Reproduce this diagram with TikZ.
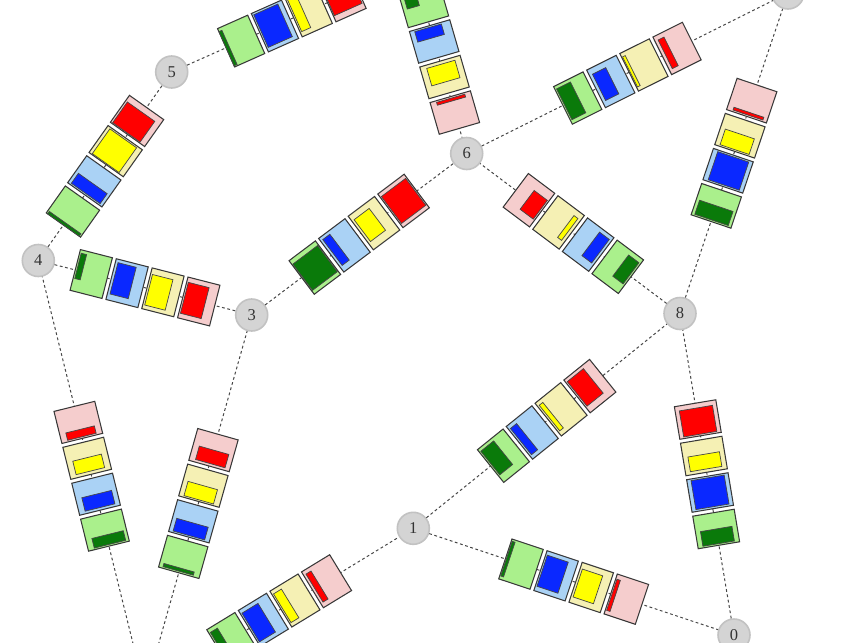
\documentclass[tikz,border=0pt]{standalone}
\usepackage{fontspec}
\setmainfont{Liberation Serif}
\usetikzlibrary{calc}
\definecolor{lgreen}{HTML}{AAF08C}
\definecolor{dgreen}{HTML}{0A7A0A}
\definecolor{lblue}{HTML}{AAD2F5}
\definecolor{dblue}{HTML}{0A28FF}
\definecolor{lyel}{HTML}{F5F0B4}
\definecolor{dyel}{HTML}{FFFF00}
\definecolor{lpink}{HTML}{F5CDCD}
\definecolor{dred}{HTML}{FF0000}
\tikzset{
  vnode/.style={circle, minimum size=32pt, inner sep=0pt, fill=black!17, draw=black!24, line width=1.6pt, text=black!80, font=\fontsize{16.5}{16.5}\selectfont},
  edgeline/.style={draw=black!72, line width=1pt, dash pattern=on 2.8pt off 2.6pt},
  boxline/.style={draw=black!78, line width=1.05pt},
  innerline/.style={draw=black!72, line width=0.7pt}
}
% one box of a chain: #1 centre u, #2 light colour, #3 dark colour, #4..#7 inner u0 v0 u1 v1 (fractions)
\newcommand\chainbox[7]{%
  \draw[boxline, fill=#2] ({#1-16.5},-21) rectangle ({#1+16.5},21);
  \draw[innerline, fill=#3] ({#1-16.5+33*#4},{-21+42*#5}) rectangle ({#1-16.5+33*#6},{-21+42*#7});
}
% chain of four boxes on the edge from #1 (green end) to #2 (red end)
\newcommand\edgechain[6]{%
  \pgfmathanglebetweenpoints{\pgfpointanchor{#1}{center}}{\pgfpointanchor{#2}{center}}%
  \let\chainangle\pgfmathresult
  \begin{scope}[shift={($(#1)!0.5!(#2)$)}, rotate=\chainangle, x=1pt, y=1pt]
    \chainbox{-55.5}{lgreen}{dgreen}#3
    \chainbox{-18.5}{lblue}{dblue}#4
    \chainbox{18.5}{lyel}{dyel}#5
    \chainbox{55.5}{lpink}{dred}#6
  \end{scope}}
\begin{document}
\begin{tikzpicture}[x=1pt,y=-1pt]
\useasboundingbox (0,0) rectangle (855,643);
\clip (0,0) rectangle (855,643);
% nodes
\node[vnode] (n0) at (734,635) {0};
\node[vnode] (n1) at (413.3,528.3) {1};
\node[vnode] (n2) at (145,692) {};
\node[vnode] (n3) at (251.7,315) {3};
\node[vnode] (n4) at (38.3,260.5) {4};
\node[vnode] (n5) at (171.7,72) {5};
\node[vnode] (n6) at (466.7,153.5) {6};
\node[vnode] (n7) at (412,-35) {};
\node[vnode] (n8) at (680,313.5) {8};
\node[vnode] (n9) at (788,-7) {};
% connectors
\foreach \a/\b in {n4/n5, n4/n3, n3/n6, n7/n6, n5/n7, n6/n9, n8/n6, n8/n9, n2/n4, n2/n3, n2/n1, n1/n8, n0/n8, n1/n0}
  \draw[edgeline] (\a) -- (\b);
% box chains
\edgechain{n4}{n5}{{0}{0.04}{0.09}{0.96}}{{0.05}{0.08}{0.42}{0.92}}{{0.03}{0.14}{0.95}{0.92}}{{0.03}{0.15}{0.8}{0.95}}
\edgechain{n4}{n3}{{0.05}{0.3}{0.22}{0.92}}{{0.08}{0.15}{0.65}{0.92}}{{0.06}{0.1}{0.7}{0.85}}{{0.05}{0.12}{0.7}{0.88}}
\edgechain{n3}{n6}{{0.03}{0.1}{0.97}{0.88}}{{0.08}{0.15}{0.35}{0.92}}{{0.08}{0.2}{0.65}{0.85}}{{0.04}{0.1}{0.96}{0.9}}
\edgechain{n7}{n6}{{0.0}{0.1}{0.45}{0.4}}{{0.05}{0.12}{0.38}{0.78}}{{0.1}{0.15}{0.65}{0.85}}{{0.05}{0.15}{0.14}{0.85}}
\edgechain{n5}{n7}{{0}{0.03}{0.1}{0.92}}{{0.05}{0.1}{0.85}{0.95}}{{0.05}{0.12}{0.35}{0.95}}{{0.03}{0.15}{0.95}{0.97}}
\edgechain{n6}{n9}{{0.05}{0.1}{0.52}{0.92}}{{0.1}{0.15}{0.55}{0.85}}{{0.03}{0.1}{0.12}{0.9}}{{0.1}{0.12}{0.3}{0.88}}
\edgechain{n8}{n6}{{0.06}{0.12}{0.45}{0.75}}{{0.08}{0.1}{0.45}{0.8}}{{0.1}{0.15}{0.25}{0.8}}{{0.05}{0.24}{0.55}{0.8}}
\edgechain{n8}{n9}{{0.05}{0.08}{0.5}{0.92}}{{0.05}{0.1}{0.95}{0.88}}{{0.05}{0.15}{0.55}{0.88}}{{0.05}{0.1}{0.14}{0.85}}
\edgechain{n2}{n4}{{0.05}{0.08}{0.35}{0.85}}{{0.08}{0.12}{0.5}{0.85}}{{0.1}{0.15}{0.52}{0.85}}{{0.05}{0.15}{0.28}{0.85}}
\edgechain{n2}{n3}{{0.05}{0.15}{0.15}{0.9}}{{0.05}{0.12}{0.45}{0.9}}{{0.05}{0.15}{0.5}{0.88}}{{0.08}{0.12}{0.5}{0.85}}
\edgechain{n2}{n1}{{0.05}{0.25}{0.3}{0.9}}{{0.05}{0.1}{0.62}{0.9}}{{0.05}{0.1}{0.33}{0.9}}{{0.08}{0.12}{0.26}{0.9}}
\edgechain{n1}{n8}{{0.05}{0.2}{0.55}{0.92}}{{0.06}{0.1}{0.3}{0.9}}{{0.06}{0.12}{0.2}{0.9}}{{0.05}{0.17}{0.68}{0.92}}
\edgechain{n0}{n8}{{0.05}{0.12}{0.5}{0.88}}{{0.06}{0.1}{0.95}{0.9}}{{0.1}{0.12}{0.55}{0.88}}{{0.05}{0.1}{0.85}{0.9}}
\edgechain{n1}{n0}{{0.03}{0.08}{0.12}{0.95}}{{0.05}{0.12}{0.72}{0.9}}{{0.07}{0.15}{0.72}{0.85}}{{0.04}{0.1}{0.15}{0.88}}
\end{tikzpicture}
\end{document}
